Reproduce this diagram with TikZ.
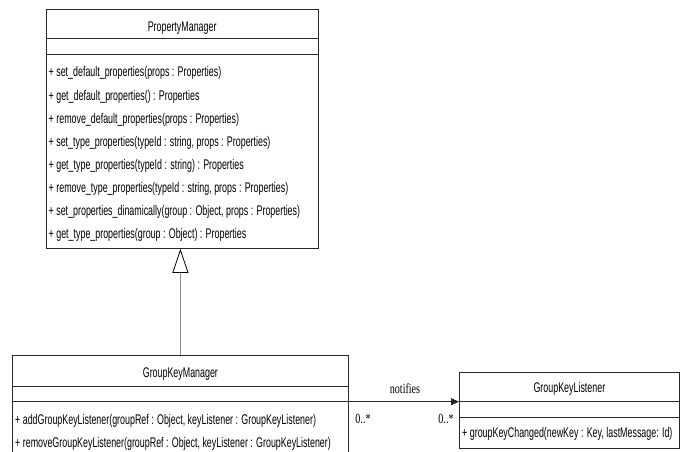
\documentclass[tikz,border=0pt]{standalone}
\usepackage{fontspec}
\newfontfamily\umlfont[FakeStretch=0.635]{Liberation Sans}
\newfontfamily\lblfont[FakeStretch=0.72]{Liberation Serif}
\usetikzlibrary{arrows.meta}
\begin{document}
\begin{tikzpicture}[x=1pt,y=-1pt,
  classbox/.style={draw=black!85, line width=0.8pt, inner sep=0pt, anchor=north west},
  sep/.style={draw=black!85, line width=1pt},
  cname/.style={font=\umlfont\fontsize{14}{16}\selectfont, inner sep=0pt, anchor=base},
  op/.style={font=\umlfont\fontsize{14}{16}\selectfont, inner sep=0pt, anchor=base west},
  lbl/.style={font=\lblfont\fontsize{14}{16}\selectfont, inner sep=0pt, anchor=base},
  gen/.style={draw=black!45, line width=1pt, -{Triangle[open, length=24pt, width=16pt, color=black, line width=0.8pt]}},
  assoc/.style={draw=black!85, line width=0.9pt, -{Triangle[length=8pt, width=7pt]}}]
\useasboundingbox (0,0) rectangle (680,452);
\clip (0,0) rectangle (680,452);
\fill[white] (0,0) rectangle (680,452);

% PropertyManager
\node[classbox, minimum width=272.5pt, minimum height=239pt] (pm) at (45.5,9) {};
\draw[sep] ([yshift=-30pt]pm.north west) -- ([yshift=-30pt]pm.north east);
\draw[sep] ([yshift=-46pt]pm.north west) -- ([yshift=-46pt]pm.north east);
\node[cname] (pmname) at ([yshift=-22.7pt]pm.north) {PropertyManager};
\node[op] (pm1) at (48.5,77)  {+ set\_default\_properties(props : Properties)};
\node[op] (pm2) at (48.5,100) {+ get\_default\_properties() : Properties};
\node[op] (pm3) at (48.5,123) {+ remove\_default\_properties(props : Properties)};
\node[op] (pm4) at (48.5,146) {+ set\_type\_properties(typeId : string, props : Properties)};
\node[op] (pm5) at (48.5,169) {+ get\_type\_properties(typeId : string) : Properties};
\node[op] (pm6) at (48.5,192) {+ remove\_type\_properties(typeId : string, props : Properties)};
\node[op] (pm7) at (48.5,215) {+ set\_properties\_dinamically(group : Object, props : Properties)};
\node[op] (pm8) at (48.5,238) {+ get\_type\_properties(group : Object) : Properties};

% GroupKeyManager
\node[classbox, minimum width=335.4pt, minimum height=110pt] (gkm) at (12.3,355) {};
\draw[sep] ([yshift=-31pt]gkm.north west) -- ([yshift=-31pt]gkm.north east);
\draw[sep] ([yshift=-46.7pt]gkm.north west) -- ([yshift=-46.7pt]gkm.north east);
\node[cname] (gkmname) at ([yshift=-22.5pt]gkm.north) {GroupKeyManager};
\node[op] (gkm1) at (15,424.5) {+ addGroupKeyListener(groupRef : Object, keyListener : GroupKeyListener)};
\node[op] (gkm2) at (15,447) {+ removeGroupKeyListener(groupRef : Object, keyListener : GroupKeyListener)};

% GroupKeyListener
\node[classbox, minimum width=220pt, minimum height=76.3pt] (gkl) at (459,371.7) {};
\draw[sep] ([yshift=-30pt]gkl.north west) -- ([yshift=-30pt]gkl.north east);
\draw[sep] ([yshift=-45.3pt]gkl.north west) -- ([yshift=-45.3pt]gkl.north east);
\node[cname] (gklname) at ([yshift=-21pt]gkl.north) {GroupKeyListener};
\node[op] (gkl1) at (462,437.5) {+ groupKeyChanged(newKey : Key, lastMessage: Id)};

% generalization
\draw[gen] (gkm.north) -- (gkm.north |- pm.south);

% association
\draw[assoc] ([yshift=-30pt]gkl.north west -| gkm.east) -- ([yshift=-30pt]gkl.north west);
\node[lbl] (notif) at (405,393) {notifies};
\node[lbl] (m1) at (363,423.5) {0..*};
\node[lbl] (m2) at (446,423.5) {0..*};
\end{tikzpicture}
\end{document}
